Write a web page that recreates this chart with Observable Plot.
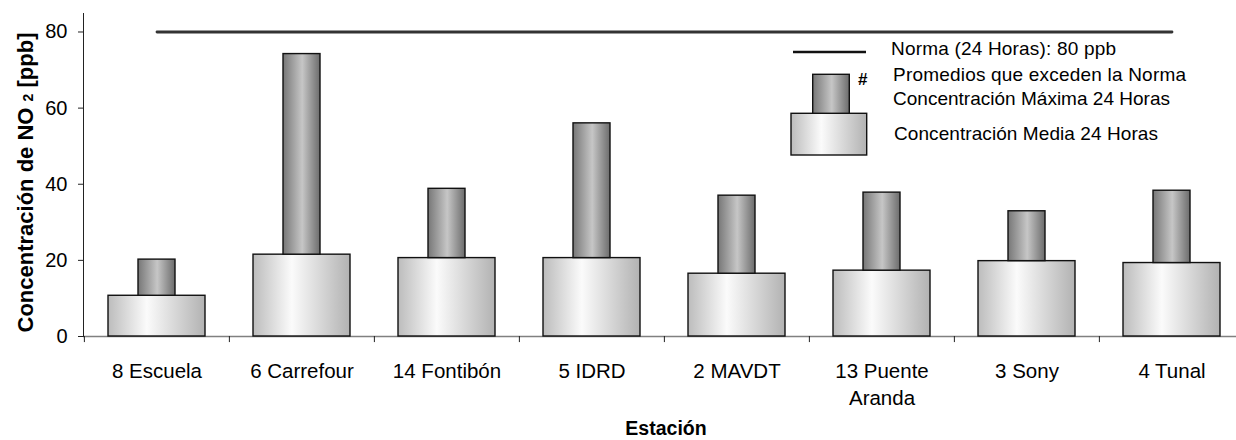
<!DOCTYPE html>
<html>
<head>
<meta charset="utf-8">
<script src="https://cdn.jsdelivr.net/npm/d3@7"></script>
<script src="https://cdn.jsdelivr.net/npm/@observablehq/plot@0.6"></script>
<style>
  html, body { margin: 0; padding: 0; background: #fff; }
  #wrap { position: relative; width: 1236px; height: 440px; font-family: "Liberation Sans", Arial, sans-serif; }
  #overlay { position: absolute; left: 0; top: 0; pointer-events: none; }
</style>
</head>
<body>
<div id="wrap"></div>
<script>
// ---- data ----
const stations = ["8 Escuela", "6 Carrefour", "14 Fontibón", "5 IDRD", "2 MAVDT", "13 Puente\nAranda", "3 Sony", "4 Tunal"];
const mediaValues = [10.7, 21.5, 20.6, 20.6, 16.5, 17.3, 19.8, 19.3];
const maximaValues = [20.2, 74.2, 38.8, 56.0, 37.0, 37.8, 32.9, 38.3];
const norma = 80;
const yTicks = [0, 20, 40, 60, 80];

const rows = stations.map((s, i) => ({station: s, media: mediaValues[i], maxima: maximaValues[i], norma}));

const W = 1236, H = 440;
const xLeft = 83, xRight = 1245;
const bw = (xRight - xLeft) / stations.length;

const chart = Plot.plot({
  width: W,
  height: H,
  marginLeft: xLeft,
  marginRight: 0,
  marginTop: 13,
  marginBottom: 104,
  style: {fontFamily: "'Liberation Sans', Arial, sans-serif", fontSize: "20px", color: "#000", background: "#fff"},
  x: {domain: stations, range: [xLeft, xRight], padding: 0, label: null},
  y: {domain: [0, 84.86], label: null},
  marks: [
    Plot.ruleY([0], {stroke: "#808080", strokeWidth: 1.3}),
    Plot.frame({anchor: "left", stroke: "#222", strokeWidth: 1}),
    Plot.ruleX(stations, {x: d => d, y1: 0, y2: -1.6, dx: -bw / 2, stroke: "#222", strokeWidth: 1}),
    Plot.axisY({ticks: yTicks, tickSize: 5, tickPadding: 11, fontSize: 20, label: null, stroke: "#222"}),
    Plot.axisX({tickSize: 0, tickPadding: 22, fontSize: 20.5, lineHeight: 1.33, label: null}),
    Plot.barY(rows, {x: "station", y1: 0, y2: "media", insetLeft: 24, insetRight: 24, fill: "url(#gMedia)", stroke: "#111", strokeWidth: 1.4}),
    Plot.barY(rows, {x: "station", y1: "media", y2: "maxima", insetLeft: 54, insetRight: 54, fill: "url(#gMax)", stroke: "#111", strokeWidth: 1.4}),
    Plot.lineY(rows, {x: "station", y: "norma", stroke: "#333", strokeWidth: 2.8})
  ]
});

d3.select(chart).insert("defs", ":first-child").html(`
  <linearGradient id="gMedia" x1="0" x2="1" y1="0" y2="0">
    <stop offset="0%" stop-color="#bcbcbc"/>
    <stop offset="40%" stop-color="#fbfbfb"/>
    <stop offset="100%" stop-color="#b2b2b2"/>
  </linearGradient>
  <linearGradient id="gMax" x1="0" x2="1" y1="0" y2="0">
    <stop offset="0%" stop-color="#777"/>
    <stop offset="52%" stop-color="#c6c6c6"/>
    <stop offset="100%" stop-color="#6c6c6c"/>
  </linearGradient>
`);

const wrap = document.getElementById("wrap");
wrap.appendChild(chart);

// overlay: axis titles and legend
const ov = d3.select(wrap).append("svg").attr("id", "overlay").attr("width", W).attr("height", H)
  .style("font-family", "'Liberation Sans', Arial, sans-serif");

ov.append("defs").html(`
  <linearGradient id="gMediaL" x1="0" x2="1" y1="0" y2="0">
    <stop offset="0%" stop-color="#bcbcbc"/>
    <stop offset="40%" stop-color="#fbfbfb"/>
    <stop offset="100%" stop-color="#b2b2b2"/>
  </linearGradient>
  <linearGradient id="gMaxL" x1="0" x2="1" y1="0" y2="0">
    <stop offset="0%" stop-color="#777"/>
    <stop offset="52%" stop-color="#c6c6c6"/>
    <stop offset="100%" stop-color="#6c6c6c"/>
  </linearGradient>
`);

// y title
const yt = ov.append("text").attr("transform", "translate(33,182.5) rotate(-90)")
  .attr("text-anchor", "middle").attr("font-weight", "bold").attr("font-size", 22);
yt.append("tspan").text("Concentración de NO ");
yt.append("tspan").attr("font-size", 14).text("2");
yt.append("tspan").text(" [ppb]");

// x title
ov.append("text").attr("x", 666).attr("y", 435).attr("text-anchor", "middle")
  .attr("font-weight", "bold").attr("font-size", 19.5).text("Estación");

// legend
ov.append("line").attr("x1", 793).attr("x2", 866).attr("y1", 52).attr("y2", 52).attr("stroke", "#111").attr("stroke-width", 2.6);
ov.append("rect").attr("x", 791).attr("y", 113.3).attr("width", 75.7).attr("height", 41.7).attr("fill", "url(#gMediaL)").attr("stroke", "#111").attr("stroke-width", 1.4);
ov.append("rect").attr("x", 812.7).attr("y", 74.3).attr("width", 36.6).attr("height", 39).attr("fill", "url(#gMaxL)").attr("stroke", "#111").attr("stroke-width", 1.4);
ov.append("text").attr("x", 858).attr("y", 84.5).attr("font-weight", "bold").attr("font-size", 17).text("#");
const lt = [
  ["Norma (24 Horas): 80 ppb", 891, 55, 225],
  ["Promedios que exceden la Norma", 893, 81, 293],
  ["Concentración Máxima 24 Horas", 893, 104.5, 277],
  ["Concentración Media 24 Horas", 894, 140, 264]
];
lt.forEach(([t, x, y, len]) => ov.append("text").attr("x", x).attr("y", y).attr("font-size", 19)
  .attr("textLength", len).attr("lengthAdjust", "spacing").attr("fill", "#000").text(t));
</script>
</body>
</html>
